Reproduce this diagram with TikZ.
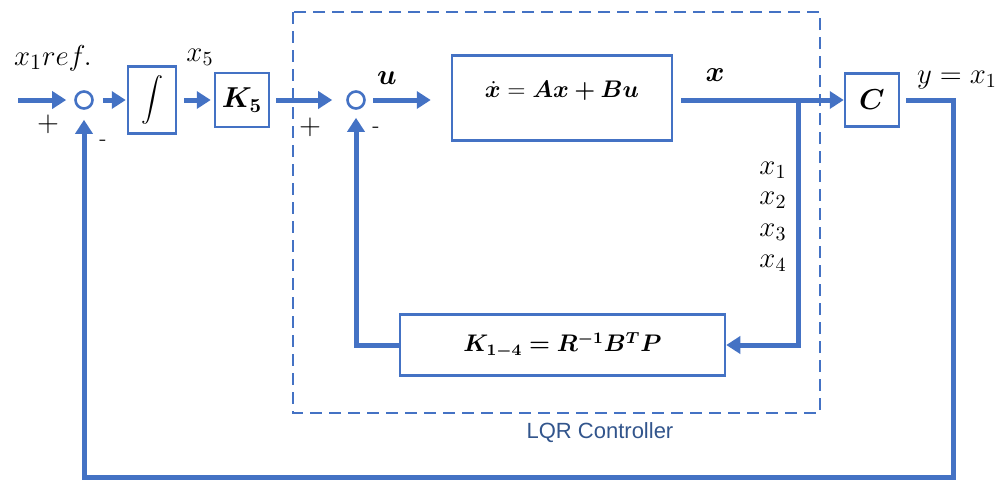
\documentclass[tikz,border=0pt]{standalone}
\usepackage{amsmath, amssymb}
\usepackage{fontspec}
\usepackage{bm}
\usepackage{xcolor}
\usepackage{tikz}
\usetikzlibrary{arrows.meta}
\newfontfamily\captionsans{Liberation Sans}
\definecolor{lineblue}{RGB}{68, 114, 196}
\definecolor{captionblue}{RGB}{50, 85, 140}

\begin{document}
\begin{tikzpicture}[x=0.5pt, y=-0.5pt, >={Triangle[length=7pt,width=8.5pt]},
  every node/.style={font=\fontsize{14}{16}\selectfont},
  block/.style={rectangle, draw=lineblue, line width=1.25pt, inner sep=0pt},
  sumpoint/.style={circle, draw=lineblue, line width=1.3pt, minimum size=8.5pt, inner sep=0pt},
  signal/.style={->, lineblue, line width=2.5pt},
  signs/.style={font=\fontsize{11}{13}\selectfont}]

\useasboundingbox (0,0) rectangle (1007,479);

% Controller frame
\draw[lineblue, dash pattern=on 6pt off 3.5pt, line width=1pt] (293,12) rectangle (820,413);
\node[text=captionblue, font=\captionsans\fontsize{11}{13}\selectfont] at (600,433) (lqr) {LQR Controller};

% Summing points
\node[sumpoint] at (84,100) (sum1) {};
\node[sumpoint] at (356,100) (sum2) {};

% Blocks
\node[block, minimum width=24pt, minimum height=33.5pt, font=\fontsize{11}{13}\selectfont] at (152,100) (integ) {$\displaystyle\int$};
\node[block, minimum width=27pt, minimum height=27pt] at (242,100) (k5) {$\bm{K_5}$};
\node[block, minimum width=110pt, minimum height=42.5pt, text depth=8.5pt, font=\fontsize{12}{14}\selectfont] at (562,98) (plant) {$\dot{\bm{x}} = \bm{Ax + Bu}$};
\node[block, minimum width=27pt, minimum height=26.5pt] at (872,100) (cmat) {$\bm{C}$};
\node[block, minimum width=162.5pt, minimum height=30.5pt, font=\fontsize{12}{14}\selectfont] at (562.5,345) (gain) {$\bm{K_{1-4} = R^{-1}B^{T}P}$};

% Signal labels
\node[font=\fontsize{15}{17}\selectfont] at (53,58) (xref) {$x_1 ref.$};
\node at (48,124) (plus1) {$+$};
\node[signs] at (103,143) (minus1) {-};
\node at (200,57) (x5) {$x_5$};
\node at (310,127) (plus2) {$+$};
\node[signs] at (376,130) (minus2) {-};
\node at (387,78) (ulbl) {$\bm{u}$};
\node at (715,75) (xlbl) {$\bm{x}$};
\node at (957,80) (ylbl) {$y = x_1$};
\foreach \i/\yy in {1/170, 2/200, 3/232, 4/263}
  \node at (773,\yy) (xs\i) {$x_{\i}$};

% Free ends and corners
\coordinate (xin) at (18,100);
\coordinate (branch) at (798,100);
\coordinate (ycorner) at (953,100);
\coordinate (fbbottom) at (953,477);

% Forward path
\draw[signal, shorten >=4pt] (xin) -- (sum1);
\draw[signal, shorten <=4.5pt, shorten >=0.5pt] (sum1) -- (integ);
\draw[signal, shorten <=3.5pt, shorten >=1.5pt] (integ) -- (k5);
\draw[signal, shorten <=3pt, shorten >=7pt] (k5) -- (sum2);
\draw[signal, shorten <=3.75pt, shorten >=10pt] (sum2) -- (sum2 -| plant.west);
\draw[signal, shorten <=4pt] (plant.east |- cmat) -- (cmat);

% State feedback
\draw[signal] (branch) |- (gain);
\draw[signal, shorten >=4pt] (gain) -| (sum2);

% Output feedback
\draw[signal, shorten <=3pt, shorten >=5pt] (cmat) -- (ycorner) -- (fbbottom) -| (sum1);

\end{tikzpicture}
\end{document}
